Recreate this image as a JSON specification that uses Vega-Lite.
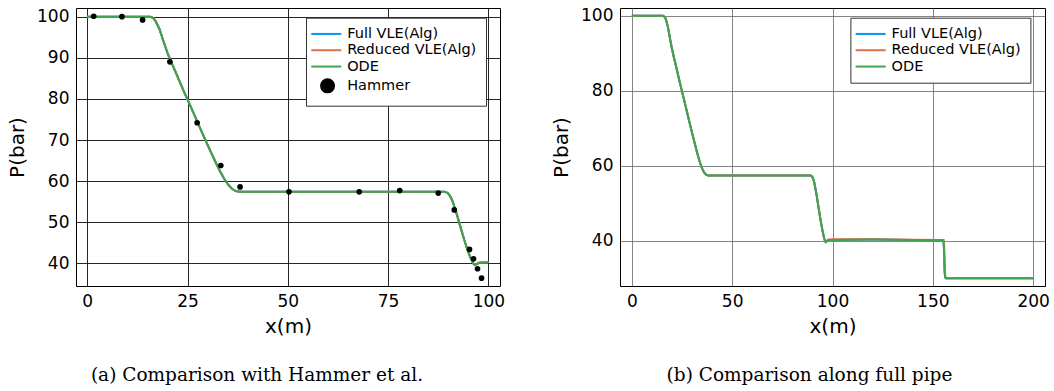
{
  "$schema": "https://vega.github.io/schema/vega-lite/v6.json",
  "background": "white",
  "padding": {"left": 7, "top": 6, "right": 0, "bottom": 0},
  "spacing": 120,
  "bounds": "flush",
  "resolve": {"scale": {"color": "independent"}},
  "config": {
    "font": "DejaVu Sans",
    "view": {"stroke": "#000", "strokeWidth": 1},
    "axis": {"domain": false, "ticks": false, "tickSize": 0, "labelFont": "DejaVu Sans", "labelFontSize": 17, "labelColor": "#000", "labelPadding": 7, "titleFont": "DejaVu Sans", "titleFontSize": 20, "titleFontWeight": "normal", "titleColor": "#000", "gridWidth": 1},
    "legend": {"title": null, "orient": "none", "fillColor": "#fff", "strokeColor": "#333", "padding": 9, "cornerRadius": 0, "labelFont": "DejaVu Sans", "labelFontSize": 14.5, "labelColor": "#000", "rowPadding": 1.3, "labelOffset": 17.7, "symbolSize": 100, "symbolStrokeWidth": 2}
  },
  "datasets": {
    "curve": [
      {"x": 0, "P": 100, "series": "Full VLE(Alg)"},
      {"x": 15.5, "P": 100, "series": "Full VLE(Alg)"},
      {"x": 16, "P": 99.9, "series": "Full VLE(Alg)"},
      {"x": 16.5, "P": 99.6, "series": "Full VLE(Alg)"},
      {"x": 17, "P": 99.0, "series": "Full VLE(Alg)"},
      {"x": 18, "P": 97.0, "series": "Full VLE(Alg)"},
      {"x": 19, "P": 94.0, "series": "Full VLE(Alg)"},
      {"x": 20, "P": 91.2, "series": "Full VLE(Alg)"},
      {"x": 21, "P": 88.8, "series": "Full VLE(Alg)"},
      {"x": 22, "P": 86.6, "series": "Full VLE(Alg)"},
      {"x": 24, "P": 82.0, "series": "Full VLE(Alg)"},
      {"x": 26, "P": 77.7, "series": "Full VLE(Alg)"},
      {"x": 28, "P": 73.2, "series": "Full VLE(Alg)"},
      {"x": 30, "P": 68.8, "series": "Full VLE(Alg)"},
      {"x": 32, "P": 64.6, "series": "Full VLE(Alg)"},
      {"x": 33, "P": 62.6, "series": "Full VLE(Alg)"},
      {"x": 34, "P": 60.8, "series": "Full VLE(Alg)"},
      {"x": 35, "P": 59.3, "series": "Full VLE(Alg)"},
      {"x": 36, "P": 58.2, "series": "Full VLE(Alg)"},
      {"x": 37, "P": 57.6, "series": "Full VLE(Alg)"},
      {"x": 38, "P": 57.4, "series": "Full VLE(Alg)"},
      {"x": 60, "P": 57.4, "series": "Full VLE(Alg)"},
      {"x": 89, "P": 57.4, "series": "Full VLE(Alg)"},
      {"x": 89.5, "P": 57.3, "series": "Full VLE(Alg)"},
      {"x": 90, "P": 57.0, "series": "Full VLE(Alg)"},
      {"x": 90.5, "P": 56.3, "series": "Full VLE(Alg)"},
      {"x": 91, "P": 55.3, "series": "Full VLE(Alg)"},
      {"x": 92, "P": 52.4, "series": "Full VLE(Alg)"},
      {"x": 93, "P": 49.0, "series": "Full VLE(Alg)"},
      {"x": 94, "P": 45.7, "series": "Full VLE(Alg)"},
      {"x": 95, "P": 42.7, "series": "Full VLE(Alg)"},
      {"x": 95.7, "P": 41.0, "series": "Full VLE(Alg)"},
      {"x": 96.2, "P": 40.0, "series": "Full VLE(Alg)"},
      {"x": 96.6, "P": 39.6, "series": "Full VLE(Alg)"},
      {"x": 97, "P": 39.7, "series": "Full VLE(Alg)"},
      {"x": 97.5, "P": 40.0, "series": "Full VLE(Alg)"},
      {"x": 98, "P": 40.15, "series": "Full VLE(Alg)"},
      {"x": 100, "P": 40.2, "series": "Full VLE(Alg)"},
      {"x": 120, "P": 40.3, "series": "Full VLE(Alg)"},
      {"x": 140, "P": 40.2, "series": "Full VLE(Alg)"},
      {"x": 155.2, "P": 40.1, "series": "Full VLE(Alg)"},
      {"x": 155.5, "P": 38.5, "series": "Full VLE(Alg)"},
      {"x": 155.7, "P": 35.0, "series": "Full VLE(Alg)"},
      {"x": 155.9, "P": 31.5, "series": "Full VLE(Alg)"},
      {"x": 156.2, "P": 30.1, "series": "Full VLE(Alg)"},
      {"x": 156.5, "P": 30.0, "series": "Full VLE(Alg)"},
      {"x": 200, "P": 30.0, "series": "Full VLE(Alg)"},

      {"x": 0, "P": 100, "series": "Reduced VLE(Alg)"},
      {"x": 15.5, "P": 100, "series": "Reduced VLE(Alg)"},
      {"x": 16, "P": 99.9, "series": "Reduced VLE(Alg)"},
      {"x": 16.5, "P": 99.6, "series": "Reduced VLE(Alg)"},
      {"x": 17, "P": 99.0, "series": "Reduced VLE(Alg)"},
      {"x": 18, "P": 97.0, "series": "Reduced VLE(Alg)"},
      {"x": 19, "P": 94.0, "series": "Reduced VLE(Alg)"},
      {"x": 20, "P": 91.2, "series": "Reduced VLE(Alg)"},
      {"x": 21, "P": 88.8, "series": "Reduced VLE(Alg)"},
      {"x": 22, "P": 86.6, "series": "Reduced VLE(Alg)"},
      {"x": 24, "P": 82.0, "series": "Reduced VLE(Alg)"},
      {"x": 26, "P": 77.7, "series": "Reduced VLE(Alg)"},
      {"x": 28, "P": 73.2, "series": "Reduced VLE(Alg)"},
      {"x": 30, "P": 68.8, "series": "Reduced VLE(Alg)"},
      {"x": 32, "P": 64.6, "series": "Reduced VLE(Alg)"},
      {"x": 33, "P": 62.6, "series": "Reduced VLE(Alg)"},
      {"x": 34, "P": 60.8, "series": "Reduced VLE(Alg)"},
      {"x": 35, "P": 59.3, "series": "Reduced VLE(Alg)"},
      {"x": 36, "P": 58.2, "series": "Reduced VLE(Alg)"},
      {"x": 37, "P": 57.6, "series": "Reduced VLE(Alg)"},
      {"x": 38, "P": 57.4, "series": "Reduced VLE(Alg)"},
      {"x": 60, "P": 57.4, "series": "Reduced VLE(Alg)"},
      {"x": 89, "P": 57.4, "series": "Reduced VLE(Alg)"},
      {"x": 89.5, "P": 57.3, "series": "Reduced VLE(Alg)"},
      {"x": 90, "P": 57.0, "series": "Reduced VLE(Alg)"},
      {"x": 90.5, "P": 56.3, "series": "Reduced VLE(Alg)"},
      {"x": 91, "P": 55.3, "series": "Reduced VLE(Alg)"},
      {"x": 92, "P": 52.4, "series": "Reduced VLE(Alg)"},
      {"x": 93, "P": 49.0, "series": "Reduced VLE(Alg)"},
      {"x": 94, "P": 45.7, "series": "Reduced VLE(Alg)"},
      {"x": 95, "P": 42.7, "series": "Reduced VLE(Alg)"},
      {"x": 95.7, "P": 41.0, "series": "Reduced VLE(Alg)"},
      {"x": 96.2, "P": 40.0, "series": "Reduced VLE(Alg)"},
      {"x": 96.6, "P": 39.7, "series": "Reduced VLE(Alg)"},
      {"x": 97, "P": 39.9, "series": "Reduced VLE(Alg)"},
      {"x": 97.5, "P": 40.15, "series": "Reduced VLE(Alg)"},
      {"x": 98, "P": 40.3, "series": "Reduced VLE(Alg)"},
      {"x": 100, "P": 40.35, "series": "Reduced VLE(Alg)"},
      {"x": 120, "P": 40.35, "series": "Reduced VLE(Alg)"},
      {"x": 140, "P": 40.25, "series": "Reduced VLE(Alg)"},
      {"x": 155.3, "P": 40.15, "series": "Reduced VLE(Alg)"},
      {"x": 155.6, "P": 39.0, "series": "Reduced VLE(Alg)"},
      {"x": 155.8, "P": 35.5, "series": "Reduced VLE(Alg)"},
      {"x": 156.0, "P": 32.0, "series": "Reduced VLE(Alg)"},
      {"x": 156.3, "P": 30.2, "series": "Reduced VLE(Alg)"},
      {"x": 156.6, "P": 30.0, "series": "Reduced VLE(Alg)"},
      {"x": 200, "P": 30.0, "series": "Reduced VLE(Alg)"},

      {"x": 0, "P": 100, "series": "ODE"},
      {"x": 15.5, "P": 100, "series": "ODE"},
      {"x": 16, "P": 99.9, "series": "ODE"},
      {"x": 16.5, "P": 99.6, "series": "ODE"},
      {"x": 17, "P": 99.0, "series": "ODE"},
      {"x": 18, "P": 97.0, "series": "ODE"},
      {"x": 19, "P": 94.0, "series": "ODE"},
      {"x": 20, "P": 91.2, "series": "ODE"},
      {"x": 21, "P": 88.8, "series": "ODE"},
      {"x": 22, "P": 86.6, "series": "ODE"},
      {"x": 24, "P": 82.0, "series": "ODE"},
      {"x": 26, "P": 77.7, "series": "ODE"},
      {"x": 28, "P": 73.2, "series": "ODE"},
      {"x": 30, "P": 68.8, "series": "ODE"},
      {"x": 32, "P": 64.6, "series": "ODE"},
      {"x": 33, "P": 62.6, "series": "ODE"},
      {"x": 34, "P": 60.8, "series": "ODE"},
      {"x": 35, "P": 59.3, "series": "ODE"},
      {"x": 36, "P": 58.2, "series": "ODE"},
      {"x": 37, "P": 57.6, "series": "ODE"},
      {"x": 38, "P": 57.4, "series": "ODE"},
      {"x": 60, "P": 57.4, "series": "ODE"},
      {"x": 89, "P": 57.4, "series": "ODE"},
      {"x": 89.5, "P": 57.3, "series": "ODE"},
      {"x": 90, "P": 57.0, "series": "ODE"},
      {"x": 90.5, "P": 56.3, "series": "ODE"},
      {"x": 91, "P": 55.3, "series": "ODE"},
      {"x": 92, "P": 52.4, "series": "ODE"},
      {"x": 93, "P": 49.0, "series": "ODE"},
      {"x": 94, "P": 45.7, "series": "ODE"},
      {"x": 95, "P": 42.7, "series": "ODE"},
      {"x": 95.7, "P": 41.0, "series": "ODE"},
      {"x": 96.2, "P": 40.0, "series": "ODE"},
      {"x": 96.6, "P": 39.6, "series": "ODE"},
      {"x": 97, "P": 39.7, "series": "ODE"},
      {"x": 97.5, "P": 40.0, "series": "ODE"},
      {"x": 98, "P": 40.15, "series": "ODE"},
      {"x": 100, "P": 40.2, "series": "ODE"},
      {"x": 120, "P": 40.3, "series": "ODE"},
      {"x": 140, "P": 40.2, "series": "ODE"},
      {"x": 155.2, "P": 40.1, "series": "ODE"},
      {"x": 155.5, "P": 38.5, "series": "ODE"},
      {"x": 155.7, "P": 35.0, "series": "ODE"},
      {"x": 155.9, "P": 31.5, "series": "ODE"},
      {"x": 156.2, "P": 30.1, "series": "ODE"},
      {"x": 156.5, "P": 30.0, "series": "ODE"},
      {"x": 200, "P": 30.0, "series": "ODE"}
    ],
    "hammer": [
      {"x": 1.6, "P": 100.1, "series": "Hammer"},
      {"x": 8.65, "P": 100.0, "series": "Hammer"},
      {"x": 13.8, "P": 99.2, "series": "Hammer"},
      {"x": 20.6, "P": 89.0, "series": "Hammer"},
      {"x": 27.4, "P": 74.2, "series": "Hammer"},
      {"x": 33.3, "P": 63.8, "series": "Hammer"},
      {"x": 38.1, "P": 58.6, "series": "Hammer"},
      {"x": 50.3, "P": 57.4, "series": "Hammer"},
      {"x": 67.8, "P": 57.4, "series": "Hammer"},
      {"x": 77.9, "P": 57.7, "series": "Hammer"},
      {"x": 87.5, "P": 57.1, "series": "Hammer"},
      {"x": 91.5, "P": 53.0, "series": "Hammer"},
      {"x": 95.3, "P": 43.4, "series": "Hammer"},
      {"x": 96.3, "P": 41.1, "series": "Hammer"},
      {"x": 97.3, "P": 38.7, "series": "Hammer"},
      {"x": 98.3, "P": 36.4, "series": "Hammer"}
    ]
  },
  "hconcat": [
    {
      "width": 424,
      "height": 278,
      "title": {"text": "(a) Comparison with Hammer et al.", "orient": "bottom", "anchor": "middle", "frame": "group", "font": "DejaVu Serif", "fontSize": 18.5, "fontWeight": "normal", "color": "#000", "offset": 30, "dx": -31},
      "layer": [
        {
          "data": {"name": "curve"},
          "transform": [{"filter": "datum.x <= 100"}],
          "mark": {"type": "line", "strokeWidth": 2, "clip": true},
          "encoding": {
            "x": {"field": "x", "type": "quantitative", "scale": {"domain": [-2.8, 102.9], "nice": false, "zero": false}, "axis": {"values": [0, 25, 50, 75, 100], "title": "x(m)", "gridColor": "#000", "gridOpacity": 0.85, "titlePadding": 7}},
            "y": {"field": "P", "type": "quantitative", "scale": {"domain": [34.5, 102.1], "nice": false, "zero": false}, "axis": {"values": [40, 50, 60, 70, 80, 90, 100], "title": "P(bar)", "gridColor": "#000", "gridOpacity": 0.85, "titlePadding": 9}},
            "color": {
              "field": "series", "type": "nominal",
              "scale": {"domain": ["Full VLE(Alg)", "Reduced VLE(Alg)", "ODE", "Hammer"], "range": ["#009AFA", "#E36F47", "#3EA44E", "#000000"]},
              "legend": {
                "legendX": 230, "legendY": 9.7,
                "encode": {"symbols": {"update": {
                  "shape": {"signal": "datum.value === 'Hammer' ? 'M2.36,0A1.3,1.3,0,1,1,-0.24,0A1.3,1.3,0,1,1,2.36,0Z' : 'M-2.2,0H3.8'"},
                  "fill": {"signal": "datum.value === 'Hammer' ? '#000' : 'transparent'"},
                  "size": {"value": 100}
                }}}
              }
            }
          }
        },
        {
          "data": {"name": "hammer"},
          "mark": {"type": "point", "filled": true, "size": 32, "opacity": 1},
          "encoding": {
            "x": {"field": "x", "type": "quantitative"},
            "y": {"field": "P", "type": "quantitative"},
            "color": {"field": "series", "type": "nominal"}
          }
        }
      ]
    },
    {
      "width": 425,
      "height": 278,
      "title": {"text": "(b) Comparison along full pipe", "orient": "bottom", "anchor": "middle", "frame": "group", "font": "DejaVu Serif", "fontSize": 18.5, "fontWeight": "normal", "color": "#000", "offset": 30, "dx": -23},
      "data": {"name": "curve"},
      "mark": {"type": "line", "strokeWidth": 2, "clip": true},
      "encoding": {
        "x": {"field": "x", "type": "quantitative", "scale": {"domain": [-5.9, 205.9], "nice": false, "zero": false}, "axis": {"values": [0, 50, 100, 150, 200], "title": "x(m)", "gridColor": "#666", "gridOpacity": 0.8, "titlePadding": 7}},
        "y": {"field": "P", "type": "quantitative", "scale": {"domain": [27.9, 102.1], "nice": false, "zero": false}, "axis": {"values": [40, 60, 80, 100], "title": "P(bar)", "gridColor": "#666", "gridOpacity": 0.8, "titlePadding": 9}},
        "color": {
          "field": "series", "type": "nominal",
          "scale": {"domain": ["Full VLE(Alg)", "Reduced VLE(Alg)", "ODE"], "range": ["#009AFA", "#E36F47", "#3EA44E"]},
          "legend": {
            "legendX": 230.4, "legendY": 9.7,
            "encode": {"symbols": {"update": {
              "shape": {"value": "M-2.2,0H3.8"},
              "fill": {"value": "transparent"},
              "size": {"value": 100}
            }}}
          }
        }
      }
    }
  ]
}
